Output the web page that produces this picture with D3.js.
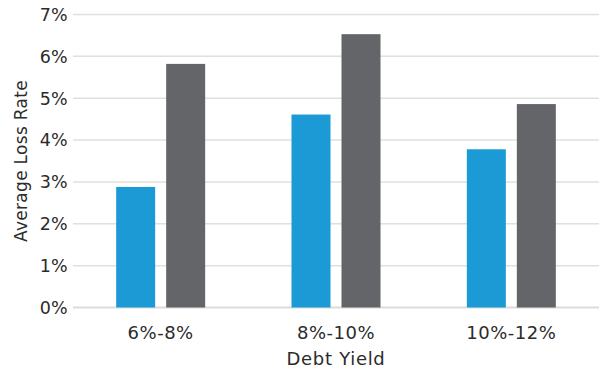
<!DOCTYPE html>
<html lang="en">
<head>
<meta charset="UTF-8">
<title>Average Loss Rate by Debt Yield</title>
<script src="https://d3js.org/d3.v7.min.js"></script>
<style>
    body { margin: 0; background: #fff; }
    svg text { font-family: "DejaVu Sans", sans-serif; fill: #2b2b2b; }
</style>
</head>
<body>
<script>
    // data
    const categories = ["6%-8%", "8%-10%", "10%-12%"];
    const seriesA = [2.88, 4.61, 3.78];
    const seriesB = [5.82, 6.53, 4.86];
    const yTicks = [0, 1, 2, 3, 4, 5, 6, 7];

    const width = 599, height = 373;
    const margin = {top: 14.5, right: 0, bottom: 65.5, left: 73};

    const svg = d3.select("body").append("svg")
        .attr("width", width)
        .attr("height", height);

    const x = d3.scaleBand()
        .domain(categories)
        .range([margin.left, width - margin.right])
        .paddingInner(0)
        .paddingOuter(0);

    const y = d3.scaleLinear()
        .domain([0, 7])
        .range([height - margin.bottom, margin.top]);

    // gridlines
    svg.append("g")
        .selectAll("line")
        .data(yTicks)
        .join("line")
        .attr("x1", margin.left)
        .attr("x2", width - margin.right)
        .attr("y1", d => y(d))
        .attr("y2", d => y(d))
        .attr("stroke", d => d === 0 ? "#dcdcdc" : "#e0e0e0")
        .attr("stroke-width", d => d === 0 ? 2 : 1.5);

    // y tick labels
    svg.append("g")
        .selectAll("text")
        .data(yTicks)
        .join("text")
        .attr("x", margin.left - 5)
        .attr("y", d => y(d))
        .attr("dy", "0.36em")
        .attr("text-anchor", "end")
        .attr("font-size", 17.5)
        .attr("letter-spacing", 0.3)
        .text(d => d + "%");

    const barW = 39;
    const gap = 11;
    const series = [
        {values: seriesA, color: "#1b9ad6", offset: -(gap / 2 + barW)},
        {values: seriesB, color: "#636569", offset: gap / 2}
    ];

    series.forEach(s => {
        svg.append("g")
            .selectAll("rect")
            .data(categories)
            .join("rect")
            .attr("x", (d) => x(d) + x.bandwidth() / 2 + s.offset)
            .attr("width", barW)
            .attr("y", (d, i) => y(s.values[i]))
            .attr("height", (d, i) => y(0) - y(s.values[i]))
            .attr("fill", s.color);
    });

    // x category labels
    svg.append("g")
        .selectAll("text")
        .data(categories)
        .join("text")
        .attr("x", d => x(d) + x.bandwidth() / 2)
        .attr("y", 339)
        .attr("text-anchor", "middle")
        .attr("font-size", 18)
        .attr("letter-spacing", 0.5)
        .text(d => d);

    svg.append("text")
        .attr("x", x(categories[1]) + x.bandwidth() / 2)
        .attr("y", 365)
        .attr("text-anchor", "middle")
        .attr("font-size", 18)
        .attr("letter-spacing", 0.7)
        .text("Debt Yield");

    svg.append("text")
        .attr("transform", `translate(27, ${(y(0) + y(7)) / 2}) rotate(-90)`)
        .attr("text-anchor", "middle")
        .attr("font-size", 17)
        .attr("letter-spacing", 0.3)
        .text("Average Loss Rate");
</script>
</body>
</html>
